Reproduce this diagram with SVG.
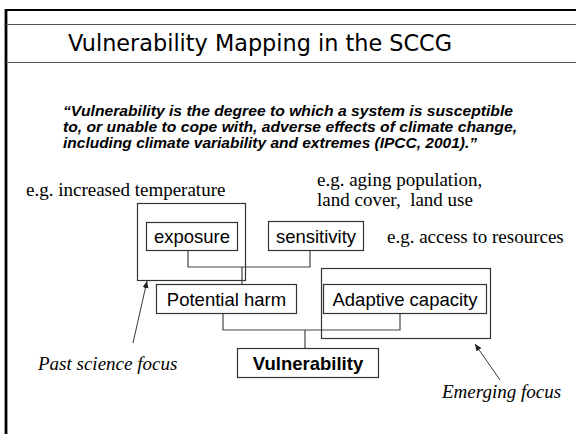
<svg xmlns="http://www.w3.org/2000/svg" width="576" height="434" viewBox="0 0 576 434">
  <style>
    .box { fill: #ffffff; stroke: #333333; stroke-width: 1.2; }
    .frame { fill: none; stroke: #333333; stroke-width: 1.2; }
    .conn { fill: none; stroke: #444444; stroke-width: 1.2; }
    .lbl { font-family: "Liberation Sans", Arial, sans-serif; font-size: 18.5px; fill: #000; text-anchor: middle; }
    .note { font-family: "Liberation Serif", "Times New Roman", serif; font-size: 19px; fill: #000; white-space: pre; }
    .quote { font-family: "Liberation Sans", Arial, sans-serif; font-size: 14.5px; font-weight: bold; font-style: italic; fill: #000; }
  </style>
  <defs>
    <marker id="tip" markerWidth="8" markerHeight="8" refX="7" refY="4" orient="auto" markerUnits="userSpaceOnUse">
      <path d="M0,1 L7,4 L0,7 Z" fill="#222"/>
    </marker>
  </defs>

  <rect width="576" height="434" fill="#ffffff"/>

  <!-- slide frame -->
  <g id="frame">
    <line x1="5" y1="10" x2="576" y2="10" stroke="#000" stroke-width="2.2"/>
    <line x1="6" y1="9" x2="6" y2="434" stroke="#000" stroke-width="2.8"/>
    <line x1="6" y1="24.5" x2="576" y2="24.5" stroke="#555" stroke-width="1"/>
    <line x1="6" y1="62.5" x2="576" y2="62.5" stroke="#555" stroke-width="1"/>
  </g>

  <text id="title" x="260" y="51" font-family="'DejaVu Sans', 'Liberation Sans', sans-serif" font-size="23" text-anchor="middle" textLength="384" lengthAdjust="spacingAndGlyphs" fill="#000">Vulnerability Mapping in the SCCG</text>

  <g id="definition">
    <text class="quote" x="63" y="116" textLength="450" lengthAdjust="spacingAndGlyphs">“Vulnerability is the degree to which a system is susceptible</text>
    <text class="quote" x="63" y="132" textLength="454" lengthAdjust="spacingAndGlyphs">to, or unable to cope with, adverse effects of climate change,</text>
    <text class="quote" x="63" y="148" textLength="414" lengthAdjust="spacingAndGlyphs">including climate variability and extremes (IPCC, 2001).”</text>
  </g>

  <!-- example notes -->
  <g id="notes">
    <text class="note" x="26" y="196">e.g. increased temperature</text>
    <text class="note" x="317" y="186">e.g. aging population,</text>
    <text class="note" x="317" y="206" xml:space="preserve">land cover,  land use</text>
    <text class="note" x="387" y="243">e.g. access to resources</text>
  </g>

  <!-- focus groupings -->
  <g id="past-focus-frame">
    <rect class="frame" x="137.5" y="203.5" width="108" height="77"/>
  </g>
  <g id="emerging-focus-frame">
    <rect class="frame" x="321.5" y="268.5" width="169" height="70"/>
  </g>

  <!-- connectors -->
  <g id="connectors">
    <polyline class="conn" points="188,250 188,267 310,267 310,250"/>
    <line class="conn" x1="242" y1="267" x2="242" y2="284"/>
    <polyline class="conn" points="223,313 223,330 400,330 400,313"/>
    <line class="conn" x1="305" y1="330" x2="305" y2="348"/>
    <line x1="133" y1="343" x2="147" y2="281" stroke="#222" stroke-width="0.9" marker-end="url(#tip)"/>
    <line x1="500" y1="380" x2="475" y2="344" stroke="#222" stroke-width="0.9" marker-end="url(#tip)"/>
  </g>

  <g id="exposure">
    <rect class="box" x="146.5" y="222.5" width="91" height="28"/>
    <text class="lbl" x="192" y="243">exposure</text>
  </g>
  <g id="sensitivity">
    <rect class="box" x="268.5" y="221.5" width="95" height="29"/>
    <text class="lbl" x="316" y="243">sensitivity</text>
  </g>
  <g id="potential-harm">
    <rect class="box" x="156.5" y="284.5" width="140" height="29"/>
    <text class="lbl" x="226.5" y="306">Potential harm</text>
  </g>
  <g id="adaptive-capacity">
    <rect class="box" x="323.5" y="284.5" width="163" height="29"/>
    <text class="lbl" x="405" y="306">Adaptive capacity</text>
  </g>
  <g id="vulnerability">
    <rect class="box" x="237.5" y="348.5" width="141" height="29"/>
    <text class="lbl" x="308" y="370" font-weight="bold">Vulnerability</text>
  </g>

  <g id="focus-labels">
    <text class="note" x="38" y="370" font-style="italic">Past science focus</text>
    <text class="note" x="442" y="398" font-style="italic">Emerging focus</text>
  </g>
</svg>
